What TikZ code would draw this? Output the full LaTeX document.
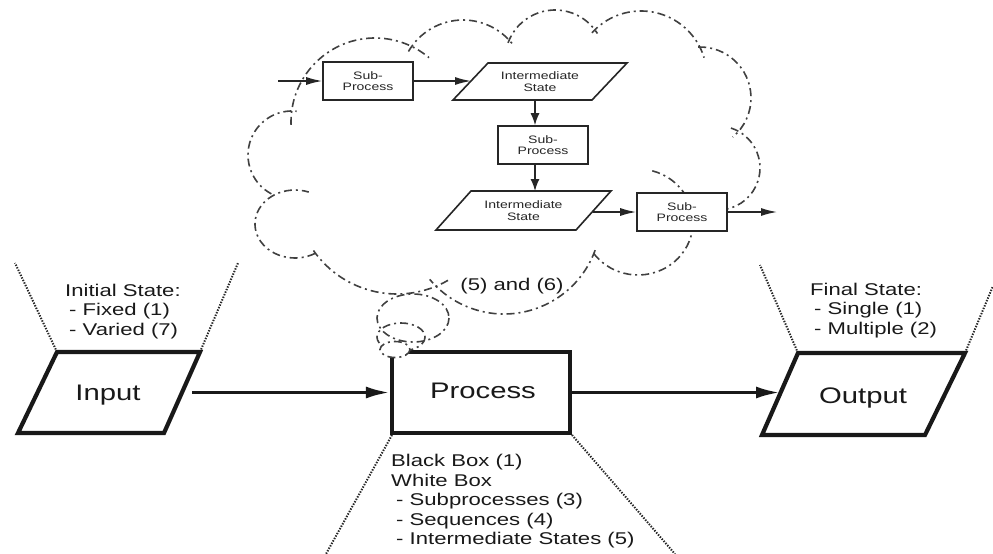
\documentclass[tikz,border=0pt]{standalone}
\usepackage{fontspec}
\setmainfont{Liberation Sans}[FakeStretch=1.3]
\usetikzlibrary{arrows.meta}
\begin{document}
\begin{tikzpicture}[x=1pt,y=-1pt,
  cloudline/.style={draw=black!75, line width=1.6pt, dash pattern=on 8pt off 4pt on 2pt off 4pt},
  dotline/.style={draw=black!85, line width=2pt, dash pattern=on 1.4pt off 1.4pt},
  bigshape/.style={draw=black!90, line width=4.2pt, line join=miter, fill=white},
  mainlbl/.style={font=\fontsize{22.5}{26}\selectfont, inner sep=0pt, text=black!90},
  note/.style={font=\fontsize{17}{19.5}\selectfont, align=left, anchor=north west, inner sep=0pt, text=black!90},
  small/.style={font=\fontsize{10.8}{11.5}\selectfont, align=center, inner sep=0pt, text=black!85},
  sbox/.style={draw=black!85, line width=1.6pt, fill=white, minimum width=90pt, minimum height=38pt, small},
  pbox/.style={draw=black!85, line width=1.6pt, fill=white, line join=miter},
  mainarrow/.style={draw=black!90, line width=3.4pt, -{Latex[length=24pt,width=12pt]}},
  harrow/.style={draw=black!85, line width=1.4pt, -{Latex[length=16pt,width=8pt]}},
  varrow/.style={draw=black!85, line width=1.4pt, -{Latex[length=12pt,width=9pt]}}]
\useasboundingbox (0,0) rectangle (993,554);

% ---- thought cloud (overlapping arcs) ----
\foreach \cx/\cy/\rx/\ry/\a/\b in {
  292/155/44/44/118/276, 375/122/84/84/178/310, 463/83/63/63/210/323,
  555/60/50/50/200/328, 641/77/66/66/222/343, 700/98/51/51/268/410,
  718/168/42/42/288/440, 638/222/55/53/285/505, 504/217/97/97/20/140,
  397/192/102/102/60/145, 295/224/40/34/60/290}
  \draw[cloudline] (\cx,\cy) ++({\rx*cos(\a)},{\ry*sin(\a)})
     arc[start angle=\a, end angle=\b, x radius=\rx, y radius=\ry];

% ---- inner flow ----
\node[sbox] (sp1) at (368,81) {Sub-\\Process};
\draw[pbox] (453,100) -- (488,63) -- (627,63) -- (592,100) -- cycle;
\node[small] (is1) at (540,81.5) {Intermediate\\State};
\node[sbox] (sp2) at (543,145) {Sub-\\Process};
\draw[pbox] (436,230) -- (471,191) -- (611,191) -- (576,230) -- cycle;
\node[small] (is2) at (523.5,210.5) {Intermediate\\State};
\node[sbox] (sp3) at (682,212) {Sub-\\Process};

\coordinate (entry) at (278,81);
\coordinate (is1in) at (471,81);
\coordinate (is1b) at (535,100);
\coordinate (is2t) at (535,191);
\coordinate (is2r) at (593,212);
\coordinate (exitp) at (777,212);
\draw[harrow] (entry) -- (sp1.west);
\draw[harrow] (sp1.east) -- (is1in);
\draw[varrow] (is1b) -- (sp2.north -| is1b);
\draw[varrow] (sp2.south -| is2t) -- (is2t);
\draw[harrow] (is2r) -- (sp3.west);
\draw[harrow] (sp3.east) -- (exitp);

\node[font=\fontsize{17}{20}\selectfont, anchor=base, inner sep=0pt, text=black!90] (cloudlbl) at (512,290) {(5) and (6)};

% ---- dotted fans ----
\draw[dotline] (57,352) -- (15,263);
\draw[dotline] (200,352) -- (238,263);
\draw[dotline] (798,353) -- (760,265);
\draw[dotline] (965,353) -- (993,286);
\draw[dotline] (392,435) -- (326,554);
\draw[dotline] (572,435) -- (675,554);

% ---- main shapes ----
\draw[bigshape] (18,433) -- (57,352) -- (200,352) -- (164,433) -- cycle;
\node[mainlbl, anchor=base] (input) at (108,400) {Input};
\node[bigshape, minimum width=178pt, minimum height=81pt, inner sep=0pt] (process) at (481,392.5) {};
\node[mainlbl, anchor=base] (proclbl) at (483,398.5) {Process};
\draw[bigshape] (762,435) -- (798,353) -- (965,353) -- (925,435) -- cycle;
\node[mainlbl, anchor=base] (output) at (863,403) {Output};

\coordinate (inR) at (192,392.5);
\coordinate (outL) at (780,392.5);
\draw[mainarrow] (inR) -- (process.west);
\draw[mainarrow] (process.east) -- (outL);

% ---- thought bubbles ----
\draw[cloudline] (413,318) ellipse[x radius=36, y radius=24];
\draw[cloudline] (401,337) ellipse[x radius=24, y radius=14];
\draw[cloudline, fill=white] (395,349.5) ellipse[x radius=15, y radius=8];

% ---- notes ----
\node[note] (instate) at (65,283.5) {Initial State:\\\hspace*{4pt}- Fixed (1)\\\hspace*{4pt}- Varied (7)};
\node[note] (outstate) at (810,282.6) {Final State:\\\hspace*{4pt}- Single (1)\\\hspace*{4pt}- Multiple (2)};
\node[note] (procnote) at (391,454.3) {Black Box (1)\\White Box\\\hspace*{5pt}- Subprocesses (3)\\\hspace*{5pt}- Sequences (4)\\\hspace*{5pt}- Intermediate States (5)};
\end{tikzpicture}
\end{document}
